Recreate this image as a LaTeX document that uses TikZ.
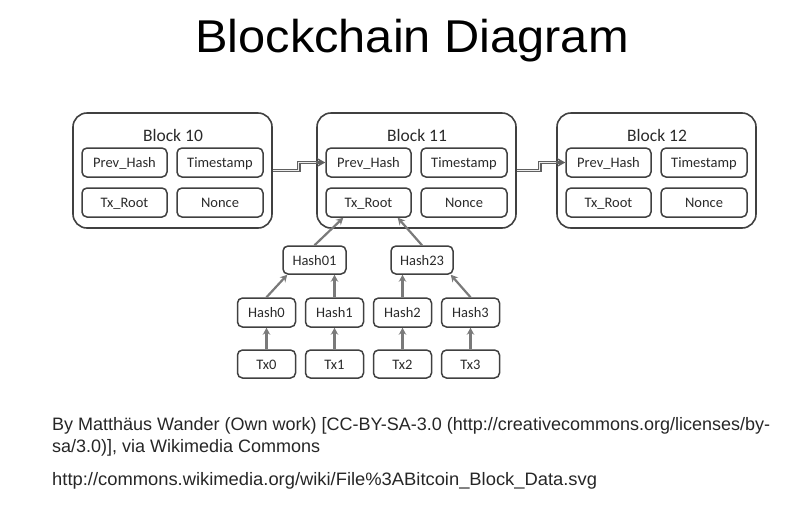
\documentclass[tikz,border=0pt]{standalone}
\usepackage{fontspec}
\setmainfont{Liberation Sans}
\newfontfamily\boxfont{Carlito}
\usetikzlibrary{arrows.meta,calc}
\definecolor{boxline}{HTML}{404040}
\definecolor{boxtext}{HTML}{2A2A2A}
\definecolor{arrowgray}{HTML}{7A7A7A}
\tikzset{
  blockbox/.style={draw=boxline, line width=1.6pt, rounded corners=14pt, minimum width=199pt, minimum height=115pt, inner sep=0pt},
  fieldbox/.style={draw=boxline, line width=1.5pt, rounded corners=5pt, minimum height=29pt, inner sep=0pt, text height=12.5pt, text depth=2pt, text=boxtext, font=\boxfont\fontsize{14.5}{16}\selectfont},
  blocktitle/.style={text=boxtext, font=\boxfont\fontsize{17.5}{20}\selectfont, inner sep=0pt},
  treearrow/.style={draw=arrowgray, line width=2.2pt, -{Stealth[length=7pt,width=7.5pt]}},
  chainarrow/.style={draw=gray!75!black, line width=3.4pt, -{Stealth[length=8pt,width=9pt]},
    postaction={draw=gray!15, line width=1.2pt, shorten >=9pt, -}},
  foot/.style={anchor=base west, inner sep=0pt, text=black!85, font=\fontsize{18}{20}\selectfont}
}
\begin{document}
\begin{tikzpicture}[x=1pt,y=-1pt]
\useasboundingbox (0,0) rectangle (800,504);
\node[anchor=base, inner sep=0pt, font=\fontsize{46}{50}\selectfont] (title) at (412,52) {\scalebox{1.06}[1]{Blockchain Diagram}};
% blocks
\foreach \n/\x in {10/73,11/317,12/557}{
  \node[blockbox] (blk\n) at (\x+99.5,170.5) {};
  \node[blocktitle] (bt\n) at (\x+100,135) {Block \n};
  \node[fieldbox, minimum width=85pt] (p\n) at (\x+51.5,162.5) {Prev\_Hash};
  \node[fieldbox, minimum width=86pt] (t\n) at (\x+147,162.5) {Timestamp};
  \node[fieldbox, minimum width=85pt] (r\n) at (\x+51.5,202.5) {Tx\_Root};
  \node[fieldbox, minimum width=86pt] (n\n) at (\x+147,202.5) {Nonce};
}
% chain connectors
\draw[chainarrow] (blk10.east) -- ++(26,0) |- (p11.west);
\draw[chainarrow] (blk11.east) -- ++(23,0) |- (p12.west);
% merkle tree
\node[fieldbox, minimum width=63pt, minimum height=28pt] (h01) at (314.5,260) {Hash01};
\node[fieldbox, minimum width=62pt, minimum height=28pt] (h23) at (422,260) {Hash23};
\foreach \i/\x in {0/266.5,1/334.5,2/402.5,3/470.5}{
  \node[fieldbox, minimum width=58pt] (h\i) at (\x,312.5) {Hash\i};
  \node[fieldbox, minimum width=58pt, minimum height=28pt] (tx\i) at (\x,364) {Tx\i};
  \draw[treearrow] (tx\i.north) -- (h\i.south);
}
\draw[treearrow] (h0.north) -- ($(h01.south west)+(5,0)$);
\draw[treearrow] (h1.north) -- (h1.north |- h01.south);
\draw[treearrow] (h2.north) -- (h2.north |- h23.south);
\draw[treearrow] (h3.north) -- ($(h23.south east)+(-3,0)$);
\draw[treearrow] (h01.north) -- ($(r11.south west)+(18,0)$);
\draw[treearrow] (h23.north) -- ($(r11.south east)+(-14,0)$);
% footer
\node[foot] (f1) at (52,430) {By Matthäus Wander (Own work) [CC-BY-SA-3.0 (http://creativecommons.org/licenses/by-};
\node[foot] (f2) at (52,452) {sa/3.0)], via Wikimedia Commons};
\node[foot] (f3) at (52,485) {\scalebox{1.02}[1]{http://commons.wikimedia.org/wiki/File\%3ABitcoin\_Block\_Data.svg}};
\end{tikzpicture}
\end{document}
